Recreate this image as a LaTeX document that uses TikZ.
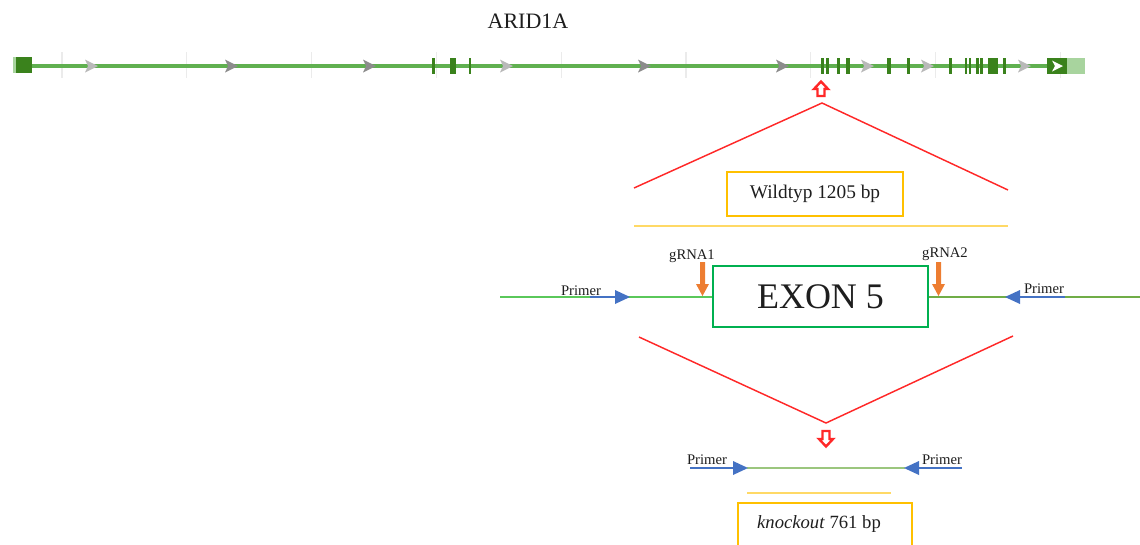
\documentclass[tikz,border=0pt]{standalone}
\usepackage{fontspec}
\setmainfont{Liberation Serif}
\begin{document}
\begin{tikzpicture}[x=0.75pt,y=-0.75pt,
  exonfill/.style={fill=exondark,draw=none},
  tick/.style={draw=tickgray,line width=0.8pt},
  redline/.style={draw=redc,line width=1.1pt},
  goldbox/.style={draw=goldc,line width=2pt,minimum width=176\pxu,minimum height=44\pxu,inner sep=0pt},
  goldline/.style={draw=goldlight,line width=2pt},
  hollowarrow/.style={draw=redc,fill=white,line width=1.8pt,line join=miter},
  primerline/.style={draw=bluec,line width=1.5pt},
  primertip/.style={fill=bluec,draw=none},
  lbl/.style={font=\fontsize{11}{12}\selectfont,text=textc,inner sep=0pt},
  grna/.style={fill=orangec,draw=none},
]
\def\pxu{*0.75pt}
\definecolor{exondark}{RGB}{58,130,28}
\definecolor{trackgreen}{RGB}{96,176,80}
\definecolor{lightgreen}{RGB}{168,212,158}
\definecolor{tickgray}{RGB}{235,235,235}
\definecolor{chevdark}{RGB}{140,140,140}
\definecolor{chevlight}{RGB}{185,185,185}
\definecolor{redc}{RGB}{255,40,40}
\definecolor{goldc}{RGB}{255,192,0}
\definecolor{goldlight}{RGB}{255,217,102}
\definecolor{bluec}{RGB}{68,114,196}
\definecolor{orangec}{RGB}{237,125,49}
\definecolor{boxgreen}{RGB}{0,176,80}
\definecolor{linegreenA}{RGB}{90,200,90}
\definecolor{linegreenB}{RGB}{112,173,71}
\definecolor{textc}{RGB}{30,30,30}
\useasboundingbox (0,0) rectangle (1140,544);
% title
\node[font=\fontsize{16.5}{18}\selectfont,text=textc] (title) at (528,21) {ARID1A};
% ticks
\foreach \k in {0,...,8}{
  \draw[tick] ({62+124.8*\k},52) -- ({62+124.8*\k},78);
}
% track line
\coordinate (trackL) at (16,66);
\coordinate (trackR) at (1085,66);
\draw[draw=trackgreen,line width=2.8pt] (trackL) -- (trackR);
% start block
\fill[lightgreen] (13,57) rectangle (16,73);
\fill[exondark] (16,57) rectangle (32,73);
% exons
\foreach \c/\w in {433/3,453/6,470/2.5,822/3,827/3,838/3,848/4,889/3.5,908/3,950/3,966/2.5,970/2.5,977.5/2.5,981.5/3,1004.5/2.5}{
  \path[exonfill] ({\c-\w/2},58) rectangle ({\c+\w/2},74);
}
\path[exonfill] (988,58) rectangle (998,74);
% end block
\fill[exondark] (1047,58) rectangle (1067,74);
\fill[lightgreen] (1067,58) rectangle (1085,74);
\fill[white] (1052,60.5) -- (1063,66) -- (1052,71.5) -- (1055,66) -- cycle;
% chevrons
\foreach \x/\col in {92/chevlight,232/chevdark,370/chevdark,507/chevlight,645/chevdark,783/chevdark,868/chevlight,928/chevlight,1025/chevlight}{
  \fill[\col] ({\x-7},59.5) -- ({\x+6},66) -- ({\x-7},72.5) -- ({\x-4},66) -- cycle;
}
% red up arrow
\draw[hollowarrow] (821,81.5) -- (828,89) -- (824.5,89) -- (824.5,96) -- (817.5,96) -- (817.5,89) -- (814,89) -- cycle;
% upper red chevron
\coordinate (apexU) at (822,103);
\coordinate (chevUL) at (634,188);
\coordinate (chevUR) at (1008,190);
\draw[redline] (chevUL) -- (apexU) -- (chevUR);
% wildtype box
\node[goldbox,font=\fontsize{14.5}{16}\selectfont,text=textc] (wt) at (815,194) {Wildtyp 1205 bp};
\coordinate (wtL) at (634,226);
\coordinate (wtR) at (1008,226);
\draw[goldline] (wtL) -- (wtR);
% exon 5 box
\node[draw=boxgreen,line width=2pt,minimum width=215\pxu,minimum height=61\pxu,inner sep=0pt,font=\fontsize{27}{30}\selectfont,text=textc] (exon) at (820.5,296.5) {EXON 5};
\coordinate (dnaL) at (500,297);
\coordinate (dnaR) at (1140,297);
\draw[draw=linegreenA,line width=1.5pt] (dnaL) -- (exon.west |- dnaL);
\draw[draw=linegreenB,line width=1.5pt] (exon.east |- dnaR) -- (dnaR);
% gRNAs
\node[lbl] (g1) at (692,256) {gRNA1};
\node[lbl] (g2) at (945,254) {gRNA2};
\fill[grna] (700,262) rectangle (705,284) (696,284) -- (709,284) -- (702.5,296) -- cycle;
\fill[grna] (936,262) rectangle (941,284) (932,284) -- (945,284) -- (938.5,296) -- cycle;
% primers upper
\node[lbl] (p1) at (581,291) {Primer};
\draw[primerline] (590,297) -- (616,297);
\path[primertip] (615,290) -- (630,297) -- (615,304) -- cycle;
\node[lbl] (p2) at (1044,289) {Primer};
\draw[primerline] (1019,297) -- (1065,297);
\path[primertip] (1020,290) -- (1005,297) -- (1020,304) -- cycle;
% lower red chevron
\coordinate (apexD) at (826,423);
\coordinate (chevDL) at (639,337);
\coordinate (chevDR) at (1013,336);
\draw[redline] (chevDL) -- (apexD) -- (chevDR);
% red down arrow
\draw[hollowarrow] (826,446.5) -- (833,439) -- (829.5,439) -- (829.5,431) -- (822.5,431) -- (822.5,439) -- (819,439) -- cycle;
% knockout
\node[lbl] (p3) at (707,460) {Primer};
\node[lbl] (p4) at (942,460) {Primer};
\coordinate (koL) at (747,468);
\coordinate (koR) at (905,468);
\draw[draw=linegreenB!70!white,line width=1.5pt] (koL) -- (koR);
\draw[primerline] (690,468) -- (734,468);
\path[primertip] (733,461) -- (748,468) -- (733,475) -- cycle;
\draw[primerline] (918,468) -- (962,468);
\path[primertip] (919,461) -- (904,468) -- (919,475) -- cycle;
\coordinate (koGL) at (747,493);
\coordinate (koGR) at (891,493);
\draw[goldline] (koGL) -- (koGR);
\draw[draw=goldc,line width=2pt] (738,560) -- (738,503) -- (912,503) -- (912,560);
\node[font=\fontsize{14}{16}\selectfont,text=textc,inner sep=0pt] (ko) at (819,524) {\textit{knockout} 761 bp};
\end{tikzpicture}
\end{document}
